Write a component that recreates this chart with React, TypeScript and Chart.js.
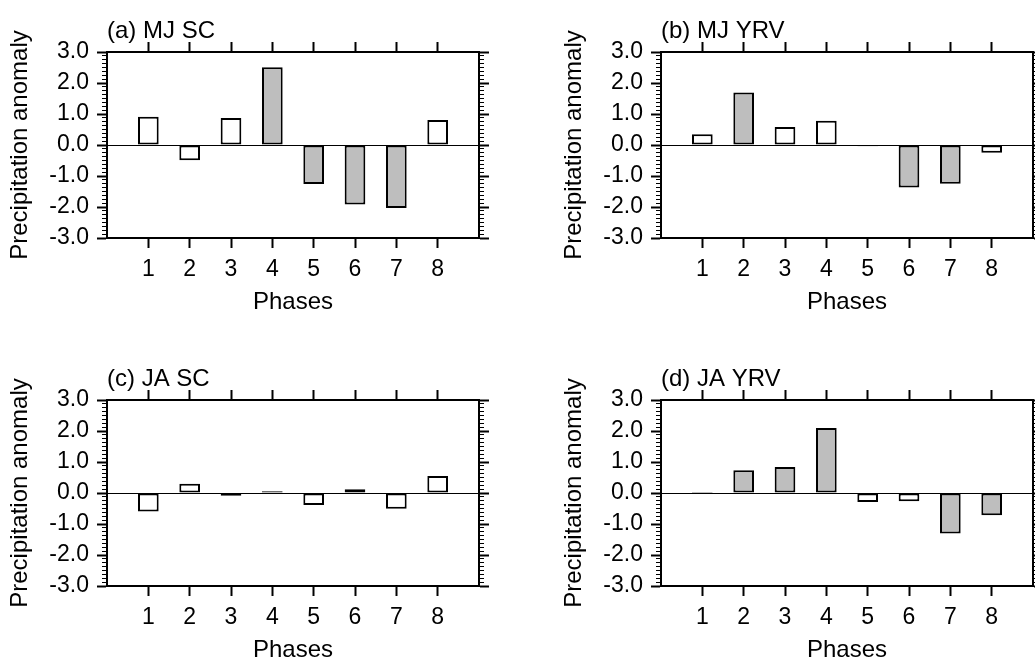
import React, { useEffect, useRef } from "react";
import { Chart, registerables } from "chart.js";

Chart.register(...registerables);

// ---- data ----
const phases = [1, 2, 3, 4, 5, 6, 7, 8];
const panelTitles = ["(a) MJ SC", "(b) MJ YRV", "(c) JA SC", "(d) JA YRV"];
const xAxisTitle = "Phases";
const yAxisTitle = "Precipitation anomaly";
const yMin = -3;
const yMax = 3;
const yMajorStep = 1;
const yMinorStep = 0.125;

const mjSC = [0.91, -0.49, 0.87, 2.51, -1.26, -1.92, -2.03, 0.81];
const mjYRV = [0.35, 1.69, 0.58, 0.78, -0.04, -1.37, -1.25, -0.25];
const jaSC = [-0.6, 0.3, -0.09, 0.06, -0.39, 0.12, -0.51, 0.55];
const jaYRV = [0.03, 0.73, 0.84, 2.1, -0.29, -0.27, -1.31, -0.72];

// 1 = shaded (significant), 0 = open
const mjSCSig = [0, 0, 0, 1, 1, 1, 1, 0];
const mjYRVSig = [0, 1, 0, 0, 1, 1, 1, 0];
const jaSCSig = [0, 0, 1, 1, 0, 0, 0, 0];
const jaYRVSig = [1, 1, 1, 1, 0, 0, 1, 1];

// ---- styles ----
const FONT = "'Liberation Sans', Arial, Helvetica, sans-serif";
const GRAY = "#bebebe";
const BLACK = "#000000";
const CANVAS_W = 517;
const CANVAS_H = 328;
const TICK_FONT = 23;
const AXIS_TITLE_FONT = 24;
const PANEL_TITLE_FONT = 24;

const isMajor = (v: number) => Math.abs(v - Math.round(v)) < 1e-6;
const setPhaseTicks = (scale: any) => {
  scale.ticks = phases.map((p) => ({ value: p }));
};

function Panel(props: {
  title: string;
  values: number[];
  sig: number[];
  left: number;
  top: number;
}) {
  const ref = useRef<HTMLCanvasElement | null>(null);
  useEffect(() => {
    if (!ref.current) return;
    const chart = new Chart(ref.current, {
      type: "bar",
      data: {
        datasets: [
          {
            data: phases.map((p, i) => ({ x: p, y: props.values[i] })),
            backgroundColor: props.sig.map((s) => (s ? GRAY : "#ffffff")),
            borderColor: BLACK,
            borderWidth: 2,
            borderSkipped: false,
            categoryPercentage: 1,
            barPercentage: 0.5,
            xAxisID: "x",
            yAxisID: "y",
          } as any,
        ],
      },
      options: {
        animation: false,
        responsive: false,
        maintainAspectRatio: false,
        layout: { padding: 0 },
        plugins: { legend: { display: false }, tooltip: { enabled: false } },
        scales: {
          x: {
            type: "linear",
            position: "bottom",
            min: 0,
            max: 9,
            offset: false,
            afterBuildTicks: setPhaseTicks,
            afterFit: (s: any) => {
              s.height = 90;
            },
            grid: {
              drawOnChartArea: false,
              offset: false,
              tickLength: 10,
              tickWidth: 2,
              tickColor: BLACK,
            },
            border: { display: true, width: 2, color: BLACK },
            ticks: {
              font: { family: FONT, size: TICK_FONT },
              color: BLACK,
              padding: 8,
              maxRotation: 0,
              autoSkip: false,
            },
            title: {
              display: true,
              text: xAxisTitle,
              font: { family: FONT, size: AXIS_TITLE_FONT },
              color: BLACK,
              padding: { top: 0, bottom: 11 },
            },
          },
          xTop: {
            type: "linear",
            position: "top",
            min: 0,
            max: 9,
            offset: false,
            afterBuildTicks: setPhaseTicks,
            afterFit: (s: any) => {
              s.height = 52;
            },
            grid: {
              drawOnChartArea: false,
              offset: false,
              tickLength: 10,
              tickWidth: 2,
              tickColor: BLACK,
            },
            border: { display: true, width: 2, color: BLACK },
            ticks: { display: false },
            title: {
              display: true,
              text: props.title,
              align: "start",
              font: { family: FONT, size: PANEL_TITLE_FONT },
              color: BLACK,
              padding: { top: 17, bottom: 0 },
            },
          },
          yMinor: {
            type: "linear",
            position: "left",
            weight: 0,
            min: yMin,
            max: yMax,
            afterFit: (s: any) => {
              s.width = 5;
            },
            ticks: { display: false, stepSize: yMinorStep },
            grid: {
              drawOnChartArea: true,
              color: (c: any) =>
                c.tick && Math.abs(c.tick.value) < 1e-9 ? BLACK : "rgba(0,0,0,0)",
              lineWidth: 1,
              tickLength: 5,
              tickColor: BLACK,
              tickWidth: (c: any) => (c.tick && isMajor(c.tick.value) ? 2 : 1),
            },
            border: { display: true, width: 2, color: BLACK },
          },
          y: {
            type: "linear",
            position: "left",
            weight: 1,
            min: yMin,
            max: yMax,
            afterFit: (s: any) => {
              s.width = 102;
            },
            ticks: {
              stepSize: yMajorStep,
              callback: (v: any) => Number(v).toFixed(1),
              font: { family: FONT, size: TICK_FONT },
              color: BLACK,
              padding: 8,
            },
            grid: {
              drawOnChartArea: false,
              tickLength: 5,
              tickWidth: 2,
              tickColor: BLACK,
            },
            border: { display: false },
            title: {
              display: true,
              text: yAxisTitle,
              font: { family: FONT, size: AXIS_TITLE_FONT },
              color: BLACK,
              padding: { top: 6, bottom: 0 },
            },
          },
          yMinorR: {
            type: "linear",
            position: "right",
            weight: 0,
            min: yMin,
            max: yMax,
            afterFit: (s: any) => {
              s.width = 5;
            },
            ticks: { display: false, stepSize: yMinorStep },
            grid: {
              drawOnChartArea: false,
              tickLength: 5,
              tickColor: BLACK,
              tickWidth: (c: any) => (c.tick && isMajor(c.tick.value) ? 2 : 1),
            },
            border: { display: true, width: 2, color: BLACK },
          },
          yR: {
            type: "linear",
            position: "right",
            weight: 1,
            min: yMin,
            max: yMax,
            afterFit: (s: any) => {
              s.width = 33;
            },
            ticks: { display: false, stepSize: yMajorStep },
            grid: {
              drawOnChartArea: false,
              tickLength: 5,
              tickWidth: 2,
              tickColor: BLACK,
            },
            border: { display: false },
          },
        } as any,
      },
    });
    return () => chart.destroy();
  }, []);
  return (
    <canvas
      ref={ref}
      width={CANVAS_W}
      height={CANVAS_H}
      style={{
        position: "absolute",
        left: props.left,
        top: props.top,
        width: CANVAS_W,
        height: CANVAS_H,
        display: "block",
      }}
    />
  );
}

export default function App() {
  return (
    <div
      style={{
        position: "absolute",
        left: 0,
        top: 0,
        width: 1035,
        height: 657,
        overflow: "hidden",
        background: "#ffffff",
      }}
    >
      <Panel title={panelTitles[0]} values={mjSC} sig={mjSCSig} left={0} top={0} />
      <Panel title={panelTitles[1]} values={mjYRV} sig={mjYRVSig} left={554} top={0} />
      <Panel title={panelTitles[2]} values={jaSC} sig={jaSCSig} left={0} top={348} />
      <Panel title={panelTitles[3]} values={jaYRV} sig={jaYRVSig} left={554} top={348} />
    </div>
  );
}
